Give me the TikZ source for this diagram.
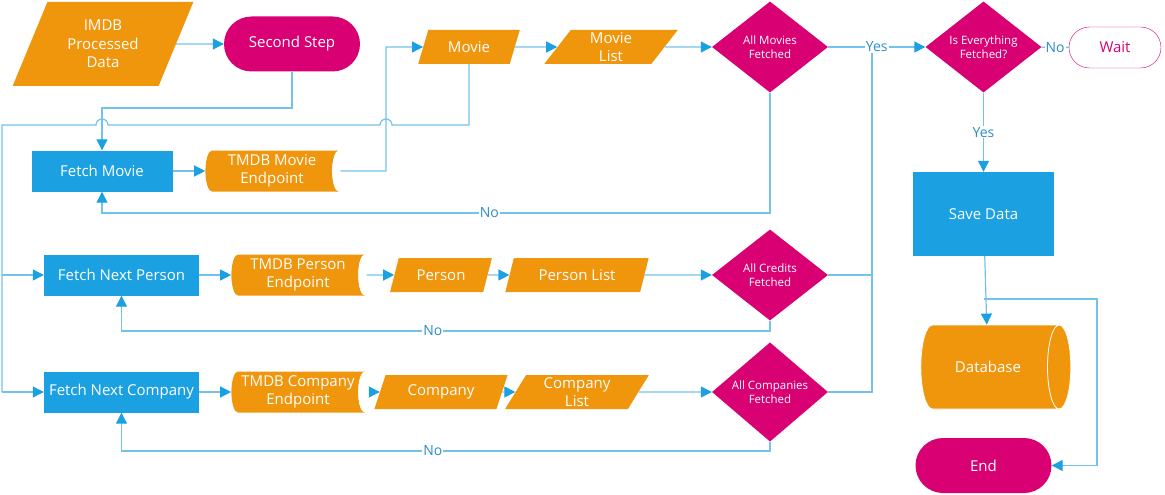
\documentclass[tikz,border=0pt]{standalone}
\usepackage{fontspec}
\setmainfont{Open Sans}
\usetikzlibrary{shapes.geometric,shapes.misc,arrows.meta}
\definecolor{flowblue}{HTML}{1BA1E2}
\definecolor{floworange}{HTML}{F0960D}
\definecolor{flowpink}{HTML}{D80073}
\definecolor{linkblue}{HTML}{72C2EC}
\definecolor{labelblue}{HTML}{2C8CCB}
\begin{document}
\begin{tikzpicture}[x=1pt,y=-1pt,
        every node/.style={font=\fontsize{15}{18.5}\selectfont,text=white,align=center,inner sep=2pt},
        process/.style={rectangle,fill=flowblue,minimum width=141pt,minimum height=41pt},
        iodata/.style={trapezium,trapezium left angle=65,trapezium right angle=115,
            trapezium stretches=true,fill=floworange,minimum height=34pt,inner sep=0pt},
        endpoint/.style={cylinder,shape aspect=0.4,cylinder uses custom fill,
            cylinder body fill=floworange,cylinder end fill=white,
            minimum height=140pt,minimum width=41pt,inner sep=0pt},
        decision/.style={diamond,fill=flowpink,font=\fontsize{11.5}{14}\selectfont,
            minimum width=116pt,minimum height=91pt,inner sep=0pt},
        terminal/.style={rounded rectangle,fill=flowpink,minimum width=140pt,minimum height=55pt},
        link/.style={draw=linkblue,line width=1.2pt},
        flow/.style={link,-{Triangle[length=11pt,width=11pt,color=flowblue]}},
        answer/.style={fill=white,text=labelblue,inner sep=1pt,font=\fontsize{14}{16}\selectfont}]
            \useasboundingbox (0,0) rectangle (1165,495);

            % top row
            \node[iodata,minimum width=181pt,minimum height=84pt] (imdb) at (103,44) {IMDB\\Processed\\Data};
            \node[terminal] (second) at (292,44) {Second Step};
            \node[iodata,minimum width=102pt] (movie) at (469,47) {Movie};
            \node[iodata,minimum width=134pt] (mlist) at (611,47) {Movie\\List};
            \node[decision] (allmov) at (770,47) {All Movies\\Fetched};
            \node[decision] (allfetch) at (983.5,47) {Is Everything\\Fetched?};
            \node[terminal,fill=white,draw=flowpink,text=flowpink,minimum width=96pt,minimum height=41pt] (wait) at (1115,47.5) {Wait};

            % movies
            \node[process] (fmovie) at (102,171) {Fetch Movie};
            \node[endpoint] (tmovie) at (272,171) {TMDB Movie\\Endpoint};

            % persons
            \node[process,minimum width=155pt] (fperson) at (121.5,275) {Fetch Next Person};
            \node[endpoint] (tperson) at (298,275) {TMDB Person\\Endpoint};
            \node[iodata,minimum width=102pt] (person) at (441,275) {Person};
            \node[iodata,minimum width=144pt] (plist) at (577,275) {Person List};
            \node[decision] (allcred) at (770,275) {All Credits\\Fetched};

            % companies
            \node[process,minimum width=155pt] (fcomp) at (121.5,392) {Fetch Next Company};
            \node[endpoint] (tcomp) at (298,392) {TMDB Company\\Endpoint};
            \node[iodata,minimum width=134pt] (comp) at (441,392) {Company};
            \node[iodata,minimum width=144pt] (clist) at (577,392) {Company\\List};
            \node[decision] (allcomp) at (770,392) {All Companies\\Fetched};

            % saving
            \node[process,minimum height=84pt] (save) at (983.5,214) {Save Data};
            \node[cylinder,shape aspect=1.5,cylinder uses custom fill,cylinder body fill=floworange,
                cylinder end fill=floworange,draw=white,line width=0.8pt,
                minimum height=150pt,minimum width=84pt] (db) at (988,367) {Database};
            \node[terminal] (end) at (983.5,465.5) {End};

            \coordinate (toperson) at (2,275);
            \coordinate (tocomp) at (2,392);
            \coordinate (split) at (983.5,299);

            \draw [flow] (imdb) -- (second);
            \draw [flow] (second.south) -- (292,108) -- (102,108) -- (fmovie.north);
            \draw [flow] (fmovie) -- (tmovie);
            \draw [flow,shorten <=-5pt] (tmovie.east) -- (386,171) |- (movie.west);
            \draw [link] (movie.south) -- (469,125) -- (392,125) arc (0:-180:6) -- (108,125)
                arc (0:-180:6) -- (2,125) -- (tocomp);
            \draw [flow] (movie) -- (mlist);
            \draw [flow] (mlist) -- (allmov);
            \draw [flow] (allmov.south) -- (770,213) -- node[answer,pos=0.42] {No} (102,213) -- (fmovie.south);

            \draw [flow] (toperson) -- (fperson);
            \draw [flow] (fperson) -- (tperson);
            \draw [flow,shorten <=-5pt] (tperson) -- (person);
            \draw [flow] (person) -- (plist);
            \draw [flow] (plist) -- (allcred);
            \draw [flow] (allcred.south) -- (770,331) -- node[answer,pos=0.52] {No} (121.5,331) -- (fperson.south);

            \draw [flow] (tocomp) -- (fcomp);
            \draw [flow] (fcomp) -- (tcomp);
            \draw [flow,shorten <=-5pt] (tcomp) -- (comp);
            \draw [flow] (comp) -- (clist);
            \draw [flow] (clist) -- (allcomp);
            \draw [flow] (allcomp.south) -- (770,451) -- node[answer,pos=0.52] {No} (121.5,451) -- (fcomp.south);

            \draw [link] (allcomp.east) -- (872,392) -- (872,47);
            \draw [link] (allcred.east) -- (872,275);
            \draw [flow] (allmov) -- node[answer] {Yes} (allfetch);
            \draw [link] (allfetch) -- node[answer] {No} (wait);
            \draw [flow] (allfetch) -- node[answer] {Yes} (save);
            \draw [flow] (save) -- (db);
            \draw [flow] (split) -- (1097,299) |- (end);
\end{tikzpicture}
\end{document}
